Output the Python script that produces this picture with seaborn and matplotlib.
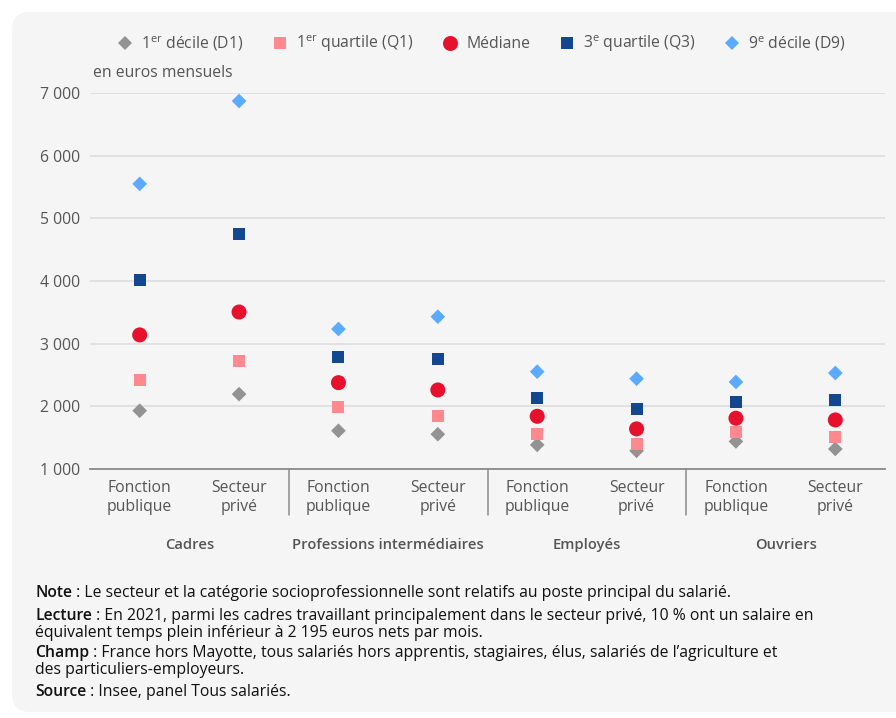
import numpy as np
import pandas as pd
import matplotlib
matplotlib.use("Agg")
import matplotlib.pyplot as plt
import seaborn as sns
from matplotlib.patches import FancyBboxPatch
from matplotlib.lines import Line2D
from matplotlib.transforms import blended_transform_factory

# ---------------- data ----------------
groups = ["Cadres", "Professions intermédiaires", "Employés", "Ouvriers"]
sectors = ["Fonction\npublique", "Secteur\nprivé"]
stat_labels = ["1$^{\\mathrm{er}}$ décile (D1)", "1$^{\\mathrm{er}}$ quartile (Q1)", "Médiane",
               "3$^{\\mathrm{e}}$ quartile (Q3)", "9$^{\\mathrm{e}}$ décile (D9)"]
d1 = [1930, 2195, 1610, 1555, 1385, 1290, 1440, 1320]
q1 = [2425, 2725, 1995, 1850, 1565, 1405, 1595, 1515]
med = [3140, 3505, 2378, 2261, 1841, 1640, 1810, 1783]
q3 = [4020, 4755, 2793, 2760, 2133, 1963, 2075, 2106]
d9 = [5550, 6872, 3234, 3430, 2553, 2441, 2389, 2532]
yticks = [1000, 2000, 3000, 4000, 5000, 6000, 7000]
ytick_labels = ["1 000", "2 000", "3 000", "4 000", "5 000", "6 000", "7 000"]

series = [d1, q1, med, q3, d9]
positions = [f"{g}|{s}" for g in groups for s in sectors]
rows = []
for lab, vals in zip(stat_labels, series):
    for p, v in zip(positions, vals):
        rows.append({"pos": p, "value": v, "stat": lab})
df = pd.DataFrame(rows)

colors = ["#939393", "#ff898e", "#e8112d", "#13478f", "#5aabff"]
markers = ["D", "s", "o", "s", "D"]
sizes = [56, 74, 117, 74, 56]
palette = dict(zip(stat_labels, colors))
marker_map = dict(zip(stat_labels, markers))
size_map = dict(zip(stat_labels, sizes))

# ---------------- style ----------------
sns.set_theme(style="white")
plt.rcParams["font.family"] = ["Open Sans", "DejaVu Sans"]
plt.rcParams["mathtext.fontset"] = "custom"
plt.rcParams["mathtext.rm"] = "Open Sans"
plt.rcParams["mathtext.it"] = "Open Sans"
plt.rcParams["mathtext.bf"] = "Open Sans:bold"

FS = 11.3
W, H = 896, 718
fig = plt.figure(figsize=(W / 100, H / 100), dpi=100, facecolor="white")

panel = FancyBboxPatch((12 / W, 6 / H), 900 / W, 700 / H,
                       boxstyle="round,pad=0,rounding_size=0.02",
                       transform=fig.transFigure, facecolor="#f5f5f5",
                       edgecolor="none", zorder=-5, mutation_aspect=W / H)
fig.patches.append(panel)

ax = fig.add_axes([90 / W, 1 - 469 / H, (885 - 90) / W, (469 - 93) / H])
ax.set_facecolor("none")
ax.set_zorder(2)

sns.scatterplot(data=df, x="pos", y="value", hue="stat", style="stat", size="stat",
                palette=palette, markers=marker_map, sizes=size_map,
                hue_order=stat_labels, style_order=stat_labels, size_order=stat_labels,
                linewidth=0, ax=ax, legend=False, zorder=3)

ax.set_xlim(-0.5, 7.5)
ax.set_ylim(1000, 7000)
ax.set_yticks(yticks)
ax.set_yticklabels(ytick_labels)
ax.set_xticks(range(len(positions)))
ax.set_xticklabels([s for g in groups for s in sectors])
ax.set_xlabel("")
ax.set_ylabel("")
ax.grid(axis="y", color="#dedede", linewidth=1.3, zorder=0)
ax.set_axisbelow(True)
for sp in ["top", "right", "left"]:
    ax.spines[sp].set_visible(False)
ax.spines["bottom"].set_color("#8a8a8a")
ax.spines["bottom"].set_linewidth(1.3)
ax.tick_params(axis="y", length=0, pad=7, labelsize=FS, labelcolor="#555555")
ax.tick_params(axis="x", length=0, pad=8, labelsize=FS, labelcolor="#555555")
for t in ax.get_xticklabels():
    t.set_linespacing(1.25)

trans = blended_transform_factory(ax.transData, ax.transAxes)
for xs in [1.5, 3.5, 5.5]:
    ax.plot([xs, xs], [0, -46 / 376], color="#8a8a8a", lw=1.1, transform=trans, clip_on=False)
for i, g in enumerate(groups):
    ax.text(2 * i + 0.5, -76 / 376, g, transform=trans, ha="center", va="center",
            fontsize=10.6, fontweight="semibold", color="#555555")

fig.text(93 / W, 1 - 73 / H, "en euros mensuels", ha="left", va="center",
         fontsize=FS, color="#555555")

handles = [Line2D([], [], linestyle="none", marker=m, color=c, markeredgewidth=0,
                  markersize=np.sqrt(s)) for m, c, s in zip(markers, colors, sizes)]
fig.legend(handles, stat_labels, loc="center", bbox_to_anchor=(481 / W, 1 - 44 / H),
           ncol=5, frameon=False, fontsize=FS, labelcolor="#555555",
           handletextpad=0.4, columnspacing=1.75, handlelength=1.2)

# ---------------- notes ----------------
fig.canvas.draw()
renderer = fig.canvas.get_renderer()

def note(y, bold, rest):
    t = fig.text(35 / W, 1 - y / H, bold, ha="left", va="center", fontsize=FS,
                 fontweight="semibold", color="#111111")
    bb = t.get_window_extent(renderer=renderer)
    fig.text(bb.x1 / W, 1 - y / H, rest, ha="left", va="center", fontsize=FS,
             color="#111111")

def plain(y, txt):
    fig.text(35 / W, 1 - y / H, txt, ha="left", va="center", fontsize=FS, color="#111111")

note(593, "Note", " : Le secteur et la catégorie socioprofessionnelle sont relatifs au poste principal du salarié.")
note(616, "Lecture", " : En 2021, parmi les cadres travaillant principalement dans le secteur privé, 10 % ont un salaire en")
plain(633, "équivalent temps plein inférieur à 2 195 euros nets par mois.")
note(653, "Champ", " : France hors Mayotte, tous salariés hors apprentis, stagiaires, élus, salariés de l’agriculture et")
plain(670, "des particuliers-employeurs.")
note(692, "Source", " : Insee, panel Tous salariés.")

fig.savefig("out.png", dpi=100, facecolor="white")
